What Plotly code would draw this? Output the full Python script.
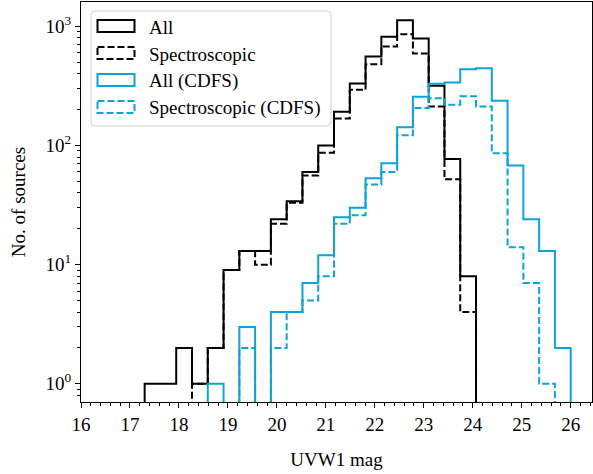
import numpy as np
import plotly.graph_objects as go

# Histogram binning (27 equal bins spanning the combined magnitude range)
BIN_MIN = 17.3
BIN_MAX = 26.0
N_BINS = 27

# Source counts per bin
all_counts = [1, 1, 2, 1, 2, 9, 13, 13, 24, 34, 60, 100, 192, 331, 557, 815,
              1125, 789, 317, 77, 8, 0, 0, 0, 0, 0, 0]
spec_counts = [0, 0, 0, 1, 2, 9, 13, 10, 22, 33, 56, 87, 168, 293, 481, 676,
               859, 590, 212, 52, 4, 0, 0, 0, 0, 0, 0]
all_cdfs_counts = [0, 0, 0, 0, 1, 0, 3, 0, 4, 4, 7, 12, 25, 30, 53, 71,
                   142, 256, 330, 337, 437, 445, 237, 68, 24, 13, 2]
spec_cdfs_counts = [0, 0, 0, 0, 0, 0, 2, 0, 2, 4, 5, 8, 22, 26, 47, 60,
                    122, 206, 249, 220, 259, 212, 86, 14, 7, 1, 0]

x_ticks = list(range(16, 27))
y_ticks = [1, 10, 100, 1000]
y_tick_text = ["10<sup>0</sup>", "10<sup>1</sup>", "10<sup>2</sup>", "10<sup>3</sup>"]

edges = np.linspace(BIN_MIN, BIN_MAX, N_BINS + 1)
FLOOR = 1e-3  # empty bins drop below the visible log range


def step_outline(counts):
    xs = [edges[0]]
    ys = [FLOOR]
    for i, c in enumerate(counts):
        v = c if c > 0 else FLOOR
        xs += [edges[i], edges[i + 1]]
        ys += [v, v]
    xs.append(edges[-1])
    ys.append(FLOOR)
    return xs, ys


BLACK = "#000000"
BLUE = "#0ba4d8"
DASH = "7px,3px"

series = [
    ("All", all_counts, BLACK, "solid"),
    ("Spectroscopic", spec_counts, BLACK, DASH),
    ("All (CDFS)", all_cdfs_counts, BLUE, "solid"),
    ("Spectroscopic (CDFS)", spec_cdfs_counts, BLUE, DASH),
]

W, H = 593, 474
ML, MR, MT, MB = 81, 1, 2, 72
PW, PH = W - ML - MR, H - MT - MB

# axis limits: 5% padding around the data, left edge pinned at 16
x_pad = 0.05 * (BIN_MAX - BIN_MIN)
x_range = [16, BIN_MAX + x_pad]
peak = max(max(all_counts), max(all_cdfs_counts))
y_span = np.log10(peak)
y_range = [-0.05 * y_span, y_span * 1.05]


def px(x):
    return (x - ML) / PW


def py(y):
    return 1 - (y - MT) / PH


fig = go.Figure()
for name, counts, color, dash in series:
    xs, ys = step_outline(counts)
    fig.add_trace(go.Scatter(
        x=xs, y=ys, mode="lines", name=name,
        line=dict(color=color, width=2, dash=dash),
        showlegend=False,
    ))

FONT = "Liberation Serif"
FS = 19

# Legend panel with rounded corners and outlined patches
shapes = []
x0, x1, y0, y1, r = 91, 331, 11, 126, 4
path = (f"M {px(x0 + r)},{py(y0)} L {px(x1 - r)},{py(y0)} "
        f"Q {px(x1)},{py(y0)} {px(x1)},{py(y0 + r)} "
        f"L {px(x1)},{py(y1 - r)} Q {px(x1)},{py(y1)} {px(x1 - r)},{py(y1)} "
        f"L {px(x0 + r)},{py(y1)} Q {px(x0)},{py(y1)} {px(x0)},{py(y1 - r)} "
        f"L {px(x0)},{py(y0 + r)} Q {px(x0)},{py(y0)} {px(x0 + r)},{py(y0)} Z")
shapes.append(dict(type="path", path=path, xref="paper", yref="paper",
                   line=dict(color="#d0d0d0", width=1),
                   fillcolor="rgba(255,255,255,0.85)", layer="above"))

annotations = []
row_y = [26, 53, 80, 107]
for (name, counts, color, dash), yc in zip(series, row_y):
    shapes.append(dict(type="rect", xref="paper", yref="paper",
                       x0=px(97.5), x1=px(134.5), y0=py(yc - 6), y1=py(yc + 6),
                       line=dict(color=color, width=2, dash=dash),
                       fillcolor="rgba(0,0,0,0)", layer="above"))
    annotations.append(dict(text=name, xref="paper", yref="paper",
                            x=px(147), y=py(yc + 1), xanchor="left",
                            yanchor="middle", showarrow=False,
                            font=dict(family=FONT, size=FS, color="black")))

fig.update_layout(
    width=W, height=H,
    margin=dict(l=ML, r=MR, t=MT, b=MB),
    plot_bgcolor="white", paper_bgcolor="white",
    font=dict(family=FONT, size=FS, color="black"),
    showlegend=False,
    shapes=shapes,
    annotations=annotations,
)

fig.update_xaxes(
    range=x_range, tickvals=x_ticks, ticks="outside", ticklen=5,
    tickwidth=1, tickcolor="black", showline=True, linecolor="black",
    linewidth=1, mirror=True, showgrid=False, zeroline=False,
    minor=dict(dtick=0.2, tick0=16, ticks="outside", ticklen=3,
               tickcolor="black", tickwidth=1, showgrid=False),
    title=dict(text="UVW1 mag", font=dict(size=FS), standoff=18),
    tickfont=dict(size=FS), ticklabelstandoff=0,
)

y_minor = [m * 10 ** k for k in range(-1, 4) for m in range(2, 10)]
fig.update_yaxes(
    type="log", range=y_range,
    tickvals=y_ticks, ticktext=y_tick_text, ticks="outside", ticklen=5,
    tickwidth=1, tickcolor="black", showline=True, linecolor="black",
    linewidth=1, mirror=True, showgrid=False, zeroline=False,
    minor=dict(tickvals=y_minor, ticks="outside", ticklen=3,
               tickcolor="black", tickwidth=1, showgrid=False),
    title=dict(text="No. of sources", font=dict(size=FS), standoff=14),
    tickfont=dict(size=FS),
)

fig.write_html("out.html")
